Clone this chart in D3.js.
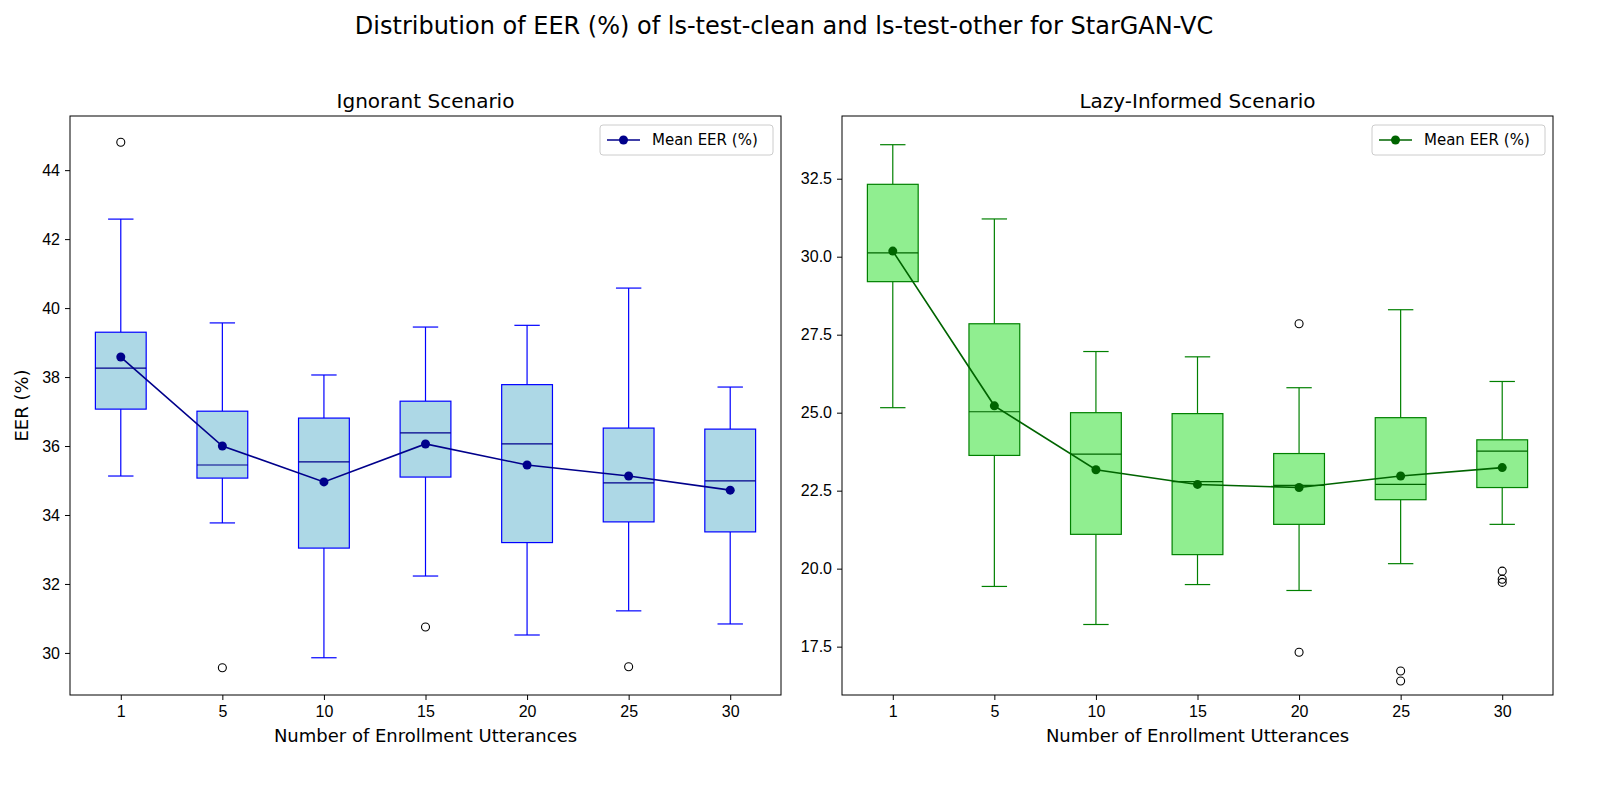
<!DOCTYPE html>
<html><head><meta charset="utf-8">
<script src="https://cdn.jsdelivr.net/npm/d3@7"></script>
<style>body{margin:0;background:#fff;font-family:"DejaVu Sans",sans-serif}</style>
</head><body>
<script>
var categories = [1, 5, 10, 15, 20, 25, 30];

// [whisker low, q1, median, q3, whisker high]
var ignorantBoxes = [
  [35.13, 37.07, 38.26, 39.30, 42.58],
  [33.77, 35.07, 35.45, 37.01, 39.57],
  [29.86, 33.04, 35.54, 36.81, 38.06],
  [32.23, 35.10, 36.38, 37.30, 39.45],
  [30.52, 33.20, 36.06, 37.78, 39.50],
  [31.22, 33.80, 34.93, 36.52, 40.58],
  [30.84, 33.51, 34.99, 36.49, 37.71]
];
var ignorantOutliers = [[44.81], [29.57], [], [30.75], [], [29.60], []];
var ignorantMeans = [38.58, 36.00, 34.96, 36.06, 35.45, 35.13, 34.72];

var lazyBoxes = [
  [25.16, 29.20, 30.12, 32.32, 33.59],
  [19.43, 23.63, 25.03, 27.85, 31.21],
  [18.21, 21.10, 23.67, 25.00, 26.96],
  [19.49, 20.45, 22.79, 24.97, 26.79],
  [19.30, 21.42, 22.67, 23.69, 25.80],
  [20.16, 22.21, 22.70, 24.84, 28.30],
  [21.42, 22.60, 23.77, 24.13, 26.00]
];
var lazyOutliers = [[], [], [], [], [27.85, 17.32], [16.72, 16.40], [19.92, 19.66, 19.56]];
var lazyMeans = [30.18, 25.22, 23.17, 22.70, 22.60, 22.97, 23.24];

var W = 1600, H = 800;
var svg = d3.select('body').append('svg').attr('width', W).attr('height', H);

svg.append('text').text('Distribution of EER (%) of ls-test-clean and ls-test-other for StarGAN-VC')
  .attr('x', 784).attr('y', 34).attr('text-anchor', 'middle').style('font-size', '24px');

function panel(opt) {
  var left = opt.left, top = 116, w = 711, h = 579;
  var g = svg.append('g').attr('transform', `translate(${left},${top})`);
  var x = d3.scalePoint().domain(categories).range([0, w]).padding(0.5);
  var step = x.step();
  var y = d3.scaleLinear().domain(opt.domain).range([h, 0]);
  var bw = step * 0.5;

  g.append('g').attr('transform', `translate(0,${h})`)
    .call(d3.axisBottom(x).tickSize(5).tickPadding(6))
    .call(a => a.selectAll('text').style('font-size', '16px').attr('fill', '#000'));
  g.append('g')
    .call(d3.axisLeft(y).tickValues(opt.ticks).tickFormat(opt.fmt).tickSize(5).tickPadding(5))
    .call(a => a.selectAll('text').style('font-size', '16px').attr('fill', '#000'));
  g.selectAll('.domain').remove();

  categories.forEach(function(c, i) {
    var s = opt.boxes[i], cx = x(c);
    var bg = g.append('g').attr('stroke', opt.stroke).attr('stroke-width', 1.2);
    bg.append('line').attr('x1', cx).attr('x2', cx).attr('y1', y(s[0])).attr('y2', y(s[1]));
    bg.append('line').attr('x1', cx).attr('x2', cx).attr('y1', y(s[3])).attr('y2', y(s[4]));
    [s[0], s[4]].forEach(v => bg.append('line').attr('x1', cx - bw / 4).attr('x2', cx + bw / 4)
      .attr('y1', y(v)).attr('y2', y(v)));
    bg.append('rect').attr('x', cx - bw / 2).attr('width', bw)
      .attr('y', y(s[3])).attr('height', y(s[1]) - y(s[3])).attr('fill', opt.fill);
    bg.append('line').attr('x1', cx - bw / 2).attr('x2', cx + bw / 2)
      .attr('y1', y(s[2])).attr('y2', y(s[2])).attr('stroke', opt.median);
    opt.outliers[i].forEach(v => g.append('circle').attr('cx', cx).attr('cy', y(v)).attr('r', 4)
      .attr('fill', 'none').attr('stroke', '#000').attr('stroke-width', 1.1));
  });

  var line = d3.line().x((d, i) => x(categories[i])).y(d => y(d));
  g.append('path').datum(opt.means).attr('d', line).attr('fill', 'none')
    .attr('stroke', opt.mean).attr('stroke-width', 1.6);
  g.selectAll('.mean').data(opt.means).enter().append('circle')
    .attr('cx', (d, i) => x(categories[i])).attr('cy', d => y(d)).attr('r', 4.5).attr('fill', opt.mean);

  g.append('rect').attr('width', w).attr('height', h).attr('fill', 'none').attr('stroke', '#000').attr('stroke-width', 1);

  // legend
  var lg = g.append('g').attr('transform', `translate(${w - 181},9)`);
  lg.append('rect').attr('width', 173).attr('height', 30).attr('rx', 3)
    .attr('fill', '#fff').attr('stroke', '#ccc');
  lg.append('line').attr('x1', 7).attr('x2', 40).attr('y1', 15).attr('y2', 15)
    .attr('stroke', opt.mean).attr('stroke-width', 1.6);
  lg.append('circle').attr('cx', 23.5).attr('cy', 15).attr('r', 4.5).attr('fill', opt.mean);
  lg.append('text').text('Mean EER (%)').attr('x', 52).attr('y', 20).style('font-size', '15px');

  g.append('text').text(opt.title).attr('x', w / 2).attr('y', -8)
    .attr('text-anchor', 'middle').style('font-size', '20px');
  g.append('text').text('Number of Enrollment Utterances').attr('x', w / 2).attr('y', h + 47)
    .attr('text-anchor', 'middle').style('font-size', '18px');
  if (opt.ylabel) {
    g.append('text').text(opt.ylabel).attr('transform', `translate(-42,${h / 2}) rotate(-90)`)
      .attr('text-anchor', 'middle').style('font-size', '18px');
  }
}

panel({
  left: 70, title: 'Ignorant Scenario', ylabel: 'EER (%)',
  domain: [28.78, 45.57], ticks: [30, 32, 34, 36, 38, 40, 42, 44], fmt: d3.format('d'),
  boxes: ignorantBoxes, outliers: ignorantOutliers, means: ignorantMeans,
  stroke: '#0000ff', median: '#00008b', fill: '#add8e6', mean: '#00008b'
});
panel({
  left: 842, title: 'Lazy-Informed Scenario',
  domain: [15.95, 34.51], ticks: [17.5, 20, 22.5, 25, 27.5, 30, 32.5], fmt: d3.format('.1f'),
  boxes: lazyBoxes, outliers: lazyOutliers, means: lazyMeans,
  stroke: '#008000', median: '#006400', fill: '#90ee90', mean: '#006400'
});
</script>
</body></html>
